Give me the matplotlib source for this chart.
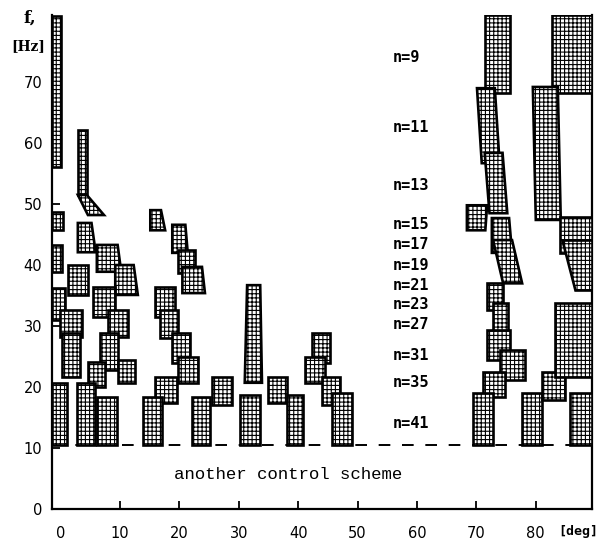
import matplotlib.pyplot as plt

# frequency/angle cells of the shaded regions
# (f_low, f_high, x_left, x_right, shift_left, shift_right)
# x_left / x_right are the top edge, the bottom edge is moved right by the shifts
left_cells = [
    (56.1, 80.8, -1.45, 0.0, 0, 0),
    (45.7, 48.7, -1.45, 0.4, 0, 0),
    (38.9, 43.3, -1.45, 0.2, 0, 0),
    (31.0, 36.2, -1.45, 0.7, 0, 0),
    (10.5, 20.7, -1.45, 1.1, 0, 0),
    (51.5, 62.1, 2.9, 4.4, 0, 0),
    (48.2, 51.5, 2.9, 4.4, 1.7, 2.9),
    (42.1, 46.9, 2.9, 5.2, 0, 0.7),
    (35.1, 40.0, 1.2, 4.6, 0, 0),
    (38.9, 43.3, 6.1, 9.6, 0, 0.6),
    (35.1, 40.0, 9.2, 12.3, 0, 0.7),
    (31.5, 36.4, 5.5, 9.2, 0, 0),
    (28.2, 32.6, 8.0, 11.3, 0, 0),
    (28.2, 32.6, -0.1, 3.6, 0, 0),
    (21.6, 28.9, 0.2, 3.3, 0, 0),
    (22.8, 28.9, 6.6, 9.7, 0, 0),
    (20.0, 24.1, 4.6, 7.5, 0, 0),
    (20.7, 24.4, 9.7, 12.5, 0, 0),
    (10.5, 20.7, 2.8, 5.8, 0, 0),
    (10.5, 18.4, 6.1, 9.5, 0, 0),
]

mid_cells = [
    (45.7, 49.0, 15.1, 16.9, 0, 0.7),
    (42.0, 46.6, 18.8, 21.0, 0, 0.4),
    (38.7, 42.5, 19.8, 22.6, 0, 0),
    (35.4, 39.7, 20.5, 23.8, 0, 0.5),
    (31.5, 36.4, 15.9, 19.3, 0, 0),
    (28.0, 32.6, 16.7, 19.8, 0, 0),
    (23.9, 28.9, 18.8, 21.8, 0, 0),
    (20.7, 24.9, 19.8, 23.1, 0, 0),
    (17.4, 21.6, 15.9, 19.6, 0, 0),
    (10.5, 18.4, 13.9, 17.1, 0, 0),
    (10.5, 18.4, 22.1, 25.2, 0, 0),
    (17.0, 21.6, 25.5, 28.9, 0, 0),
    (20.7, 36.7, 31.4, 33.6, -0.4, 0.3),
    (10.5, 18.7, 30.2, 33.6, 0, 0),
    (17.4, 21.6, 34.9, 38.1, 0, 0),
    (10.5, 18.7, 38.1, 40.8, 0, 0),
    (23.9, 28.9, 42.3, 45.4, 0, 0),
    (20.7, 24.9, 41.1, 44.5, 0, 0),
    (17.0, 21.6, 44.0, 47.0, 0, 0),
    (10.5, 19.0, 45.7, 49.1, 0, 0),
]

right_cells = [
    (68.2, 81.0, 71.4, 75.7, 0, 0),
    (56.7, 69.0, 70.1, 73.1, 0.8, 0.8),
    (48.5, 58.4, 71.4, 74.4, 0.8, 0.8),
    (45.7, 49.8, 68.4, 71.8, 0, -0.3),
    (42.0, 47.7, 72.6, 75.5, 0, 0.5),
    (37.0, 44.1, 72.8, 76.0, 1.7, 1.7),
    (32.6, 37.0, 71.8, 74.5, 0, 0),
    (28.9, 33.8, 72.8, 75.3, 0, 0),
    (24.4, 29.3, 71.8, 75.7, 0, 0),
    (21.1, 26.1, 74.0, 78.2, 0, 0),
    (18.4, 22.5, 71.1, 74.8, 0, 0),
    (10.5, 19.0, 69.4, 72.8, 0, 0),
    (10.5, 19.0, 77.7, 81.0, 0, 0),
    (17.9, 22.5, 81.0, 84.9, 0, 0),
    (68.2, 81.0, 82.7, 89.46, 0, 0),
    (47.4, 69.2, 79.5, 83.7, 0.5, 0.5),
    (42.0, 47.9, 84.1, 89.46, 0, 0),
    (35.9, 44.1, 84.4, 89.46, 2.2, 0),
    (21.6, 33.8, 83.2, 89.46, 0, 0),
    (10.5, 19.0, 85.8, 89.46, 0, 0),
]

n_labels = ["n=9", "n=11", "n=13", "n=15", "n=17", "n=19",
            "n=21", "n=23", "n=27", "n=31", "n=35", "n=41"]
n_freqs = [74.1, 62.6, 53.1, 46.6, 43.3, 40.0, 36.7, 33.6, 30.3, 25.2, 20.7, 14.1]
n_label_x = 56.0

x_ticks = [0, 10, 20, 30, 40, 50, 60, 70, 80]
y_ticks = [0, 10, 20, 30, 40, 50, 60, 70]
scheme_limit = 10.5

fig = plt.figure(figsize=(6.03, 5.42), dpi=100)
ax = fig.add_axes([52 / 603, 33 / 542, 540 / 603, 494 / 542])
ax.set_xlim(-1.45, 89.46)
ax.set_ylim(0, 81)

plt.rcParams['hatch.linewidth'] = 0.8
for f0, f1, xl, xr, sl, sr in left_cells + mid_cells + right_cells:
    ax.fill([xl, xr, xr + sr, xl + sl], [f1, f1, f0, f0],
            facecolor='white', edgecolor='black', hatch='++++',
            linewidth=1.9, zorder=3)

# boundary of the other control scheme
ax.axhline(scheme_limit, color='black', lw=1.4, ls=(0, (6, 6)), zorder=1)

for lab, f in zip(n_labels, n_freqs):
    ax.text(n_label_x, f, lab, fontsize=11, fontweight='bold',
            family='DejaVu Sans Mono', va='center', ha='left')

ax.text(38.3, 5.7, "another control scheme", fontsize=12.5,
        family='Liberation Mono', ha='center', va='center')

ax.spines['top'].set_visible(False)
for s in ['left', 'bottom', 'right']:
    ax.spines[s].set_linewidth(1.6)

ax.set_xticks(x_ticks)
ax.set_yticks(y_ticks)
ax.tick_params(axis='both', direction='in', length=6, width=1.3, labelsize=10.5)
ax.tick_params(axis='x', pad=12)
ax.tick_params(axis='y', pad=7)
ax.xaxis.get_major_ticks()[0].tick1line.set_visible(False)

fig.text(30 / 603, 1 - 18 / 542, "f,", fontsize=12, fontweight='bold',
         family='DejaVu Serif', ha='center', va='center')
fig.text(28 / 603, 1 - 46 / 542, "[Hz]", fontsize=10, fontweight='bold',
         family='DejaVu Serif', ha='center', va='center')
fig.text(578 / 603, 1 - 532 / 542, "[deg]", fontsize=9.5, fontweight='bold',
         family='DejaVu Sans Mono', ha='center', va='center')

fig.savefig("out.png", dpi=100)
